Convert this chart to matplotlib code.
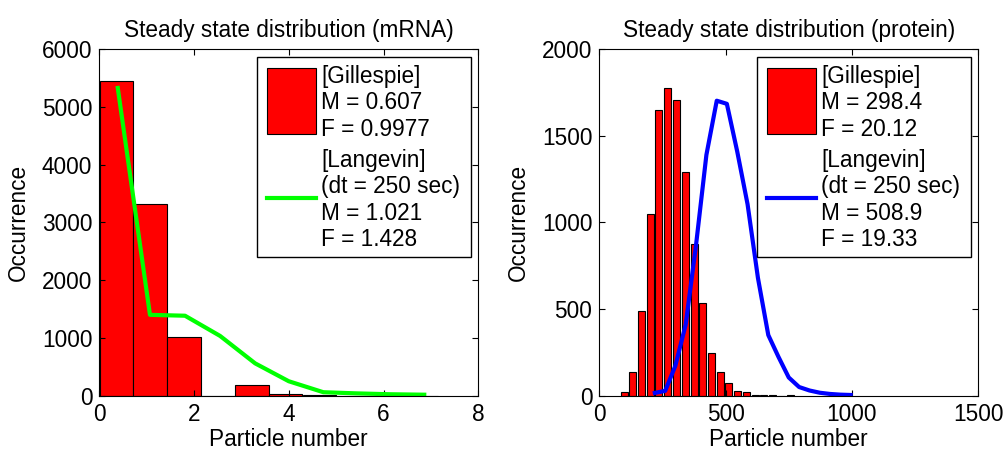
import numpy as np
import matplotlib
matplotlib.use("Agg")
import matplotlib.pyplot as plt
from matplotlib.patches import Rectangle
from matplotlib.lines import Line2D

plt.rcParams['font.family'] = ['Liberation Sans', 'DejaVu Sans']
plt.rcParams['font.size'] = 16.3

# mRNA histogram (Gillespie) and Langevin curve
mrna_centers = [0.36, 1.07, 1.79, 2.50, 3.22, 3.93, 4.65, 5.36, 6.08, 6.79]
mrna_counts = [5445, 3314, 1022, 0, 180, 35, 8, 0, 0, 0]
mrna_lang_x = [0.39, 1.07, 1.81, 2.55, 3.29, 4.00, 4.73, 5.43, 6.13, 6.86]
mrna_lang_y = [5330, 1400, 1385, 1035, 560, 250, 60, 40, 25, 17]

# protein histogram (Gillespie) and Langevin curve
prot_centers = [98, 132, 167, 202, 236, 271, 305, 340, 375, 409,
                444, 478, 513, 548, 582, 617, 651, 686, 721, 755]
prot_counts = [19, 139, 489, 1048, 1650, 1775, 1706, 1292, 873, 535,
               249, 137, 75, 27, 20, 5, 4, 4, 0, 3]
prot_lang_x = [220, 261, 301, 342, 383, 424, 465, 505, 546, 587,
               628, 669, 709, 750, 791, 832, 873, 913, 954, 995]
prot_lang_y = [16, 28, 172, 410, 870, 1390, 1703, 1685, 1410, 1105,
               680, 350, 225, 105, 50, 30, 17, 10, 6, 4]

mrna_gil = ['[Gillespie]', 'M = 0.607', 'F = 0.9977']
mrna_lan = ['[Langevin]', '(dt = 250 sec)', 'M = 1.021', 'F = 1.428']
prot_gil = ['[Gillespie]', 'M = 298.4', 'F = 20.12']
prot_lan = ['[Langevin]', '(dt = 250 sec)', 'M = 508.9', 'F = 19.33']


def box_legend(ax, gil, lan, color):
    tr = ax.transAxes
    ax.add_patch(Rectangle((0.417, 0.401), 0.564, 0.576, transform=tr,
                           facecolor='white', edgecolor='black', lw=1.0, zorder=5))
    ax.add_patch(Rectangle((0.443, 0.755), 0.128, 0.19, transform=tr,
                           facecolor='red', edgecolor='black', lw=0.8, zorder=6))
    ax.add_line(Line2D([0.443, 0.572], [0.570, 0.570], transform=tr,
                       color=color, lw=3, zorder=6))
    lines = gil + lan
    ys = [0.921, 0.846, 0.769, 0.680, 0.603, 0.527, 0.451]
    for t, y in zip(lines, ys):
        ax.text(0.585, y, t, transform=tr, ha='left', va='center', zorder=7)


def setup(ax, xlim, xticks, ylim, yticks, title):
    ax.set_xlim(xlim)
    ax.set_ylim(ylim)
    ax.set_xticks(xticks)
    ax.set_yticks(yticks)
    ax.tick_params(direction='in', top=True, right=True, length=4.5, width=0.8, pad=5)
    ax.set_title(title, pad=9, fontsize=16.3)
    ax.set_xlabel('Particle number', labelpad=2)
    ax.set_ylabel('Occurrence')
    ax.yaxis.set_label_coords(-0.184, 0.5)
    for s in ax.spines.values():
        s.set_linewidth(0.8)


fig = plt.figure(figsize=(10.06, 4.5), dpi=100)
ax1 = fig.add_axes([0.0987, 0.1207, 0.3767, 0.7698])
ax2 = fig.add_axes([0.5957, 0.1207, 0.3767, 0.7698])

w1 = mrna_centers[1] - mrna_centers[0]
ax1.bar(mrna_centers, mrna_counts, width=w1, color='red', edgecolor='black', linewidth=0.8)
ax1.plot(mrna_lang_x, mrna_lang_y, color='#00ff00', lw=3)
setup(ax1, (0, 8), [0, 2, 4, 6, 8], (0, 6000), range(0, 6001, 1000),
      'Steady state distribution (mRNA)')
box_legend(ax1, mrna_gil, mrna_lan, '#00ff00')

w2 = (prot_centers[-1] - prot_centers[0]) / (len(prot_centers) - 1) * 0.8
ax2.bar(prot_centers, prot_counts, width=w2, color='red', edgecolor='black', linewidth=0.8)
ax2.plot(prot_lang_x, prot_lang_y, color='blue', lw=3)
setup(ax2, (0, 1500), [0, 500, 1000, 1500], (0, 2000), range(0, 2001, 500),
      'Steady state distribution (protein)')
box_legend(ax2, prot_gil, prot_lan, 'blue')

fig.savefig('out.png', dpi=100)
